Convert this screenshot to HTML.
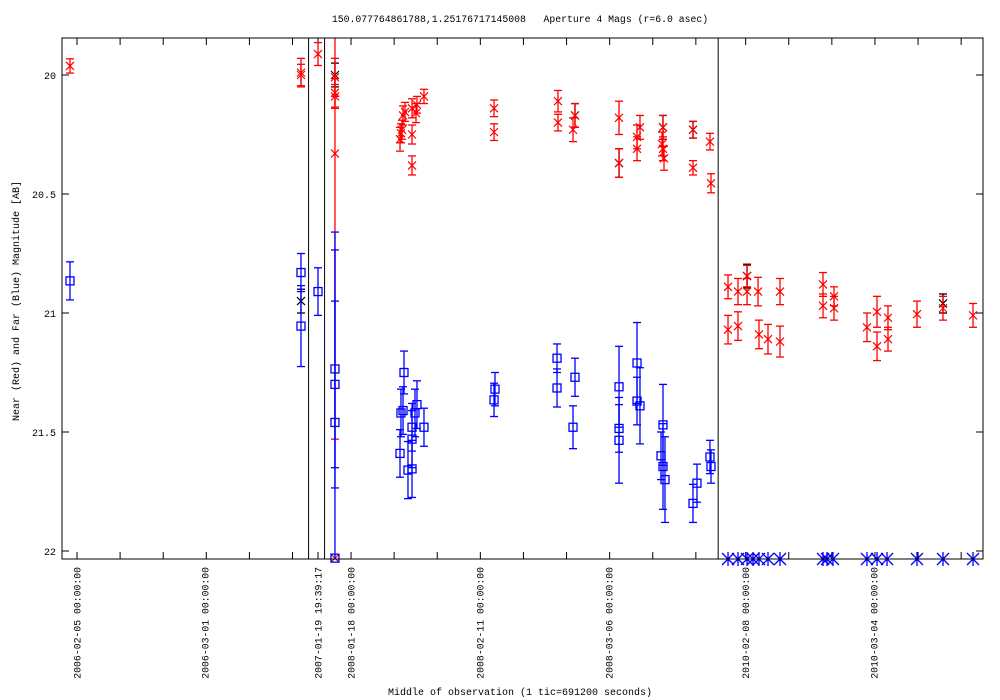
<!DOCTYPE html>
<html><head><meta charset="utf-8"><style>
html,body{margin:0;padding:0;background:#fff;}
svg{display:block;font-family:"Liberation Mono","DejaVu Sans Mono",monospace;}
</style></head><body>
<svg id="chart" width="1000" height="700" viewBox="0 0 1000 700" xmlns="http://www.w3.org/2000/svg">
<rect x="0" y="0" width="1000" height="700" fill="#fff"/>
<text x="520" y="22" font-size="9.8" text-anchor="middle" xml:space="preserve">150.077764861788,1.25176717145008   Aperture 4 Mags (r=6.0 asec)</text>
<text transform="translate(19,301) rotate(-90)" font-size="10" text-anchor="middle">Near (Red) and Far (Blue) Magnitude [AB]</text>
<text x="520" y="695" font-size="10" text-anchor="middle">Middle of observation (1 tic=691200 seconds)</text>
<g id="axes"></g>
<g id="marks"></g>
<rect x="62" y="38" width="921" height="521" fill="none" stroke="#000" stroke-width="1"/>
</svg>
<script>
// x values are days since 2006-02-05 (gnuplot broken time axis), y values are AB magnitudes
const majorTickDays = [0, 23.76, 44.73, 50.86, 74.8, 98.7, 124.1, 147.9];
const majorTickLabels = ["2006-02-05 00:00:00","2006-03-01 00:00:00","2007-01-19 19:39:17","2008-01-18 00:00:00","2008-02-11 00:00:00","2008-03-06 00:00:00","2010-02-08 00:00:00","2010-03-04 00:00:00"];
const minorTickDays = [0,8,16,24,32,40,44.73,50.86,58.86,66.86,74.86,82.86,90.86,98.86,106.86,114.86,124.1,132.1,140.1,148.1,156.1,164.1];
const yTicks = [20, 20.5, 21, 21.5, 22];
const yTickLabels = ["20","20.5","21","21.5","22"];
const separatorDays = [42.98, 45.95, 119.0];

const redX = [-1.30,41.57,41.57,44.73,47.88,47.88,47.88,47.88,59.95,60.13,60.32,60.51,60.88,62.18,62.18,62.18,62.92,63.10,64.40,77.40,77.40,89.27,89.27,92.43,92.06,100.60,100.60,103.94,103.94,104.49,108.76,108.58,108.76,108.95,114.33,114.33,117.48,117.67,
  120.83,122.68,124.36,124.36,126.40,130.48,138.46,138.46,140.50,140.50,146.62,148.48,148.48,150.52,150.52,155.90,160.73,166.30,120.83,122.68,126.58,128.25,130.48,47.88];
const redY = [19.962,19.99,20.0,19.912,20.01,20.075,20.09,20.33,20.27,20.245,20.23,20.17,20.155,20.14,20.25,20.38,20.16,20.125,20.09,20.14,20.24,20.11,20.2,20.17,20.23,20.18,20.37,20.26,20.31,20.22,20.22,20.29,20.31,20.35,20.23,20.39,20.28,20.455,
  20.89,20.91,20.845,20.91,20.91,20.91,20.88,20.97,20.93,20.98,21.06,20.995,21.14,21.02,21.11,21.005,20.98,21.01,21.07,21.055,21.09,21.11,21.12,22.03];
const redErr = [0.03,0.06,0.045,0.048,0.08,0.06,0.05,1.2,0.05,0.04,0.04,0.04,0.04,0.04,0.04,0.04,0.04,0.035,0.03,0.035,0.035,0.045,0.035,0.05,0.05,0.07,0.06,0.05,0.05,0.05,0.05,0.05,0.05,0.05,0.035,0.03,0.035,0.04,
  0.05,0.055,0.045,0.055,0.06,0.055,0.05,0.05,0.04,0.05,0.06,0.065,0.06,0.05,0.05,0.055,0.05,0.05,0.06,0.06,0.06,0.062,0.065,0];

const blueX = [-1.30,41.57,41.57,44.73,47.88,47.88,47.88,47.88,60.69,60.51,60.13,59.95,61.43,62.18,62.18,62.18,62.73,63.10,64.40,77.58,77.40,89.09,89.09,92.43,92.06,100.60,100.60,100.60,103.94,103.94,104.49,108.39,108.76,108.76,109.13,114.33,115.07,117.48,117.67];
const blueY = [20.865,20.83,21.055,20.91,21.235,21.3,21.46,22.03,21.25,21.41,21.42,21.59,21.66,21.655,21.53,21.48,21.42,21.385,21.48,21.32,21.365,21.19,21.315,21.27,21.48,21.31,21.485,21.535,21.21,21.37,21.39,21.6,21.47,21.645,21.7,21.8,21.715,21.605,21.645];
const blueErr = [0.08,0.08,0.17,0.1,0.5,0.35,0.8,0,0.09,0.1,0.1,0.1,0.12,0.12,0.12,0.1,0.1,0.1,0.08,0.07,0.07,0.06,0.08,0.08,0.09,0.17,0.1,0.18,0.17,0.1,0.16,0.1,0.17,0.18,0.18,0.08,0.08,0.07,0.07];

const starX = [120.83,122.68,124.36,125.47,126.58,128.25,130.48,138.46,139.20,140.31,146.62,148.48,150.34,155.90,160.73,166.30];

const blackX = [47.88,124.36,160.73,100.60,92.43,108.76,114.33,41.57];
const blackY = [20.0,20.845,20.96,20.37,20.17,20.22,20.23,20.95];
const blackErr = [0.05,0.05,0.04,0.06,0.05,0.05,0.035,0.05];

const PL=62, PR=983, PT=38, PB=559;
function xs(d){ return 77 + d/0.1856; }
function ys(m){ return 75 + (m-20)*238; }
function clampY(y){ return Math.max(PT, Math.min(PB, y)); }

const NS="http://www.w3.org/2000/svg";
const axes=document.getElementById('axes'), marks=document.getElementById('marks');
function mk(tag, attrs, parent){
  const e=document.createElementNS(NS,tag);
  for(const k in attrs) e.setAttribute(k, attrs[k]);
  parent.appendChild(e); return e;
}

minorTickDays.forEach(d=>{
  const x=xs(d);
  const t1=mk('line',{x1:x,y1:PB,x2:x,y2:PB-7,stroke:'#000'},axes);
  
  
  const t2=mk('line',{x1:x,y1:PT,x2:x,y2:PT+7,stroke:'#000'},axes);
  
  
});
majorTickDays.forEach((d,i)=>{
  const x=xs(d);
  const t=mk('text',{transform:`translate(${x+3.5},567) rotate(-90)`,'font-size':'9.8','text-anchor':'end'},axes);
  t.textContent=majorTickLabels[i];
  
  
});
yTicks.forEach((v,i)=>{
  const y=ys(v);
  const l=mk('line',{x1:PL,y1:y,x2:PL+7,y2:y,stroke:'#000'},axes);
  
  
  const r=mk('line',{x1:PR,y1:y,x2:PR-7,y2:y,stroke:'#000'},axes);
  
  
  const t=mk('text',{x:PL-6,y:y+4,'font-size':'10','text-anchor':'end'},axes);
  t.textContent=yTickLabels[i];
  
  
});
separatorDays.forEach(d=>{
  const s=mk('line',{x1:xs(d),y1:PT,x2:xs(d),y2:PB,stroke:'#000'},axes);
  
  
});

function errbar(x,y,e,color){
  const y1=clampY(ys(y-e)), y2=clampY(ys(y+e));
  const g=mk('g',{stroke:color,'stroke-width':'1.3'},marks);
  
  
  mk('line',{x1:x,y1:y1,x2:x,y2:y2},g);
  if(ys(y-e)>=PT) mk('line',{x1:x-4,y1:y1,x2:x+4,y2:y1},g);
  if(ys(y+e)<=PB) mk('line',{x1:x-4,y1:y2,x2:x+4,y2:y2},g);
}
function cross(x,y,color,name){
  const p=mk('path',{d:`M${x-4},${y-4}L${x+4},${y+4}M${x-4},${y+4}L${x+4},${y-4}`,stroke:color,'stroke-width':'1.2',fill:'none'},marks);
  
  
}
blackX.forEach((d,i)=>{
  const x=xs(d), y=ys(blackY[i]);
  errbar(x,blackY[i],blackErr[i],'#000');
  cross(x,y,'#000','black-point');
});
redX.forEach((d,i)=>{
  const x=xs(d), y=clampY(ys(redY[i]));
  if(redErr[i]>0) errbar(x,redY[i],redErr[i],'#f00');
  cross(x,y,'#f00','red-near-point');
});
blueX.forEach((d,i)=>{
  const x=xs(d), y=clampY(ys(blueY[i]));
  if(blueErr[i]>0) errbar(x,blueY[i],blueErr[i],'#00f');
  const r=mk('rect',{x:x-4,y:y-4,width:8,height:8,fill:'none',stroke:'#00f','stroke-width':'1.3'},marks);
  
  
});
starX.forEach(d=>{
  const x=xs(d), y=PB;
  const p=mk('path',{d:`M${x-6},${y-6}L${x+6},${y+6}M${x-6},${y+6}L${x+6},${y-6}M${x},${y-7}L${x},${y+7}`,stroke:'#00f','stroke-width':'1.3',fill:'none'},marks);
  
  
});
</script>
</body></html>
